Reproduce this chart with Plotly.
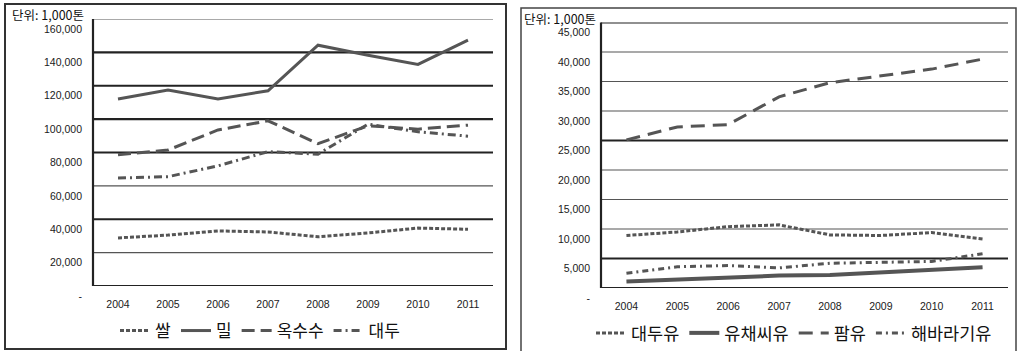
import plotly.graph_objects as go

# ---- data (unit: 1,000 tons) ----
years = ["2004", "2005", "2006", "2007", "2008", "2009", "2010", "2011"]

# grains
rice = [28800, 30500, 33000, 32400, 29500, 31800, 34700, 34000]
wheat = [112000, 117500, 112000, 117000, 144300, 138300, 132800, 147300]
corn = [78600, 81500, 93500, 99000, 85300, 96000, 94000, 96400]
soybean = [64700, 65500, 72000, 80500, 79000, 97000, 92400, 89800]

# vegetable oils
soy_oil = [8900, 9500, 10400, 10700, 9000, 8900, 9400, 8300]
rapeseed_oil = [1100, 1400, 1750, 2100, 2200, 2600, 3050, 3500]
palm_oil = [25100, 27300, 27700, 32400, 34800, 35900, 37100, 38800]
sunflower_oil = [2500, 3600, 3800, 3400, 4200, 4300, 4500, 5800]

grain_ticks = [0, 20000, 40000, 60000, 80000, 100000, 120000, 140000, 160000]
grain_tick_text = ["-", "20,000", "40,000", "60,000", "80,000", "100,000",
                   "120,000", "140,000", "160,000"]
oil_ticks = [0, 5000, 10000, 15000, 20000, 25000, 30000, 35000, 40000, 45000]
oil_tick_text = ["-", "5,000", "10,000", "15,000", "20,000", "25,000",
                 "30,000", "35,000", "40,000", "45,000"]

unit_label = "단위: 1,000톤"

W, H = 1018, 351
LINE = "#555555"
KR = "Noto Sans CJK KR"


def px_x(a, b):
    return [a / W, b / W]


def px_y(bottom, top):
    return [(H - bottom) / H, (H - top) / H]


fig = go.Figure()

grain_series = [
    ("쌀", rice, "4px,2px", 3),
    ("밀", wheat, "solid", 3),
    ("옥수수", corn, "13px,6px", 3),
    ("대두", soybean, "8px,4px,2px,4px", 3),
]
for name, vals, dash, w in grain_series:
    fig.add_trace(go.Scatter(
        x=years, y=vals, name=name, mode="lines",
        line=dict(color=LINE, width=w, dash=dash),
        xaxis="x", yaxis="y", legend="legend",
    ))

oil_series = [
    ("대두유", soy_oil, "4px,2px", 3),
    ("유채씨유", rapeseed_oil, "solid", 4),
    ("팜유", palm_oil, "14px,8px", 3),
    ("해바라기유", sunflower_oil, "6px,4px,2px,4px", 3),
]
for name, vals, dash, w in oil_series:
    fig.add_trace(go.Scatter(
        x=years, y=vals, name=name, mode="lines",
        line=dict(color=LINE, width=w, dash=dash),
        xaxis="x2", yaxis="y2", legend="legend2",
    ))

tick_font = dict(family="Liberation Sans", size=10.5, color="#1a1a1a")

common_x = dict(type="category", range=[-0.5, 7.5], showgrid=False,
                zeroline=False, showline=False, ticks="", tickfont=tick_font,
                ticklabelstandoff=10, fixedrange=True)
common_y = dict(showgrid=False, zeroline=False, showline=False, ticks="",
                tickfont=tick_font, ticklabelshift=10, ticklabelstandoff=10,
                fixedrange=True)

fig.update_layout(
    width=W, height=H,
    margin=dict(l=0, r=0, t=0, b=0, autoexpand=False),
    paper_bgcolor="white", plot_bgcolor="white",
    xaxis=dict(domain=px_x(93, 493), anchor="y", **common_x),
    yaxis=dict(domain=px_y(286, 19), anchor="x", range=[0, 160000],
               tickvals=grain_ticks, ticktext=grain_tick_text, **common_y),
    xaxis2=dict(domain=px_x(601, 1008), anchor="y2", **common_x),
    yaxis2=dict(domain=px_y(288, 22.5), anchor="x2", range=[0, 45000],
                tickvals=oil_ticks, ticktext=oil_tick_text, **common_y),
    legend=dict(orientation="h", x=260 / W, xanchor="center",
                y=(H - 331) / H, yanchor="middle",
                font=dict(family=KR, size=17, color="#111111"),
                bgcolor="rgba(0,0,0,0)", itemwidth=30, tracegroupgap=0),
    legend2=dict(orientation="h", x=794 / W, xanchor="center",
                 y=(H - 333) / H, yanchor="middle",
                 font=dict(family=KR, size=17.5, color="#111111"),
                 bgcolor="rgba(0,0,0,0)", itemwidth=30, tracegroupgap=0),
    showlegend=True,
)

shapes = []
# panel frames
shapes.append(dict(type="rect", xref="paper", yref="paper",
                   x0=5 / W, x1=506 / W, y0=(H - 349) / H, y1=(H - 4) / H,
                   line=dict(color="#333333", width=2), layer="below"))
shapes.append(dict(type="rect", xref="paper", yref="paper",
                   x0=521 / W, x1=1016 / W, y0=(H - 356) / H, y1=(H - 8) / H,
                   line=dict(color="#444444", width=1.5), layer="below"))

# horizontal gridlines
heavy_grain = {0, 40000, 80000, 100000, 120000, 140000}
for v in grain_ticks:
    heavy = v in heavy_grain
    shapes.append(dict(type="line", xref="x domain", yref="y",
                       x0=0, x1=1, y0=v, y1=v, layer="below",
                       line=dict(color="#222222" if heavy else "#555555",
                                 width=2.2 if heavy else 1.2)))
heavy_oil = {0, 5000, 25000, 45000}
for v in oil_ticks:
    heavy = v in heavy_oil
    shapes.append(dict(type="line", xref="x2 domain", yref="y2",
                       x0=0, x1=1, y0=v, y1=v, layer="below",
                       line=dict(color="#222222" if heavy else "#555555",
                                 width=2.2 if heavy else 1.2)))

# vertical value axes
shapes.append(dict(type="line", xref="x domain", yref="y domain",
                   x0=0, x1=0, y0=0, y1=1,
                   line=dict(color="#222222", width=2.2)))
shapes.append(dict(type="line", xref="x2 domain", yref="y2 domain",
                   x0=0, x1=0, y0=0, y1=1,
                   line=dict(color="#222222", width=2.2)))
fig.update_layout(shapes=shapes)

unit_font = dict(family=KR, size=12.5, color="#111111")
fig.add_annotation(text=unit_label, xref="paper", yref="paper",
                   x=10 / W, y=(H - 14) / H, xanchor="left", yanchor="middle",
                   showarrow=False, font=unit_font)
fig.add_annotation(text=unit_label, xref="paper", yref="paper",
                   x=522 / W, y=(H - 19) / H, xanchor="left", yanchor="middle",
                   showarrow=False, font=unit_font)

fig.write_html("out.html")
